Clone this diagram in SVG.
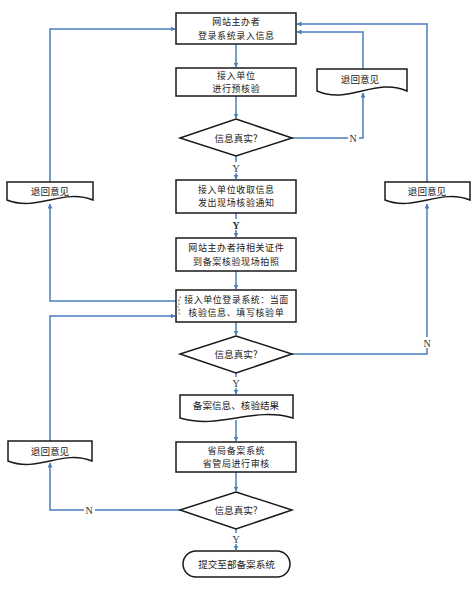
<svg xmlns="http://www.w3.org/2000/svg" width="473" height="590" viewBox="0 0 473 590">
<defs>
<marker id="arr" viewBox="0 0 10 10" refX="9" refY="5" markerWidth="5" markerHeight="5" orient="auto" markerUnits="userSpaceOnUse">
<path d="M0,0 L10,5 L0,10 Z" fill="#4a7ebb"/>
</marker>
<style>
.box{fill:#fff;stroke:#1a1a1a;stroke-width:1.5}
.t{font-family:"Noto Sans CJK SC","Noto Sans",sans-serif;font-size:9.6px;fill:#222;text-anchor:middle;dominant-baseline:central}
.m{font-size:9px;letter-spacing:0.6px}
.c{fill:none;stroke:#4a7ebb;stroke-width:1.5}
.lbl{font-family:"Liberation Serif",serif;font-size:10px;fill:#333;text-anchor:middle;dominant-baseline:central}
.bg{fill:#fff}
</style>
</defs>
<rect width="473" height="590" fill="#fff"/>

<g id="connectors">
<path class="c" d="M236 44 V67" marker-end="url(#arr)"/>
<path class="c" d="M236 96 V118" marker-end="url(#arr)"/>
<path class="c" d="M236 156 V179" marker-end="url(#arr)"/>
<path class="c" d="M292 138 H363 V93" marker-end="url(#arr)"/>
<path class="c" d="M363 69 V32 H297" marker-end="url(#arr)"/>
<path class="c" d="M236 213 V237" marker-end="url(#arr)"/>
<path class="c" d="M236 271 V289" marker-end="url(#arr)"/>
<path class="c" d="M176 301 H50 V204" marker-end="url(#arr)"/>
<path class="c" d="M50 182 V29 H175" marker-end="url(#arr)"/>
<path class="c" d="M236 322 V335" marker-end="url(#arr)"/>
<path class="c" d="M292 354 H427 V204" marker-end="url(#arr)"/>
<path class="c" d="M427 182 V24 H297" marker-end="url(#arr)"/>
<path class="c" d="M236 373 V394" marker-end="url(#arr)"/>
<path class="c" d="M236 420 V441" marker-end="url(#arr)"/>
<path class="c" d="M236 472 V491" marker-end="url(#arr)"/>
<path class="c" d="M180 510 H50 V463" marker-end="url(#arr)"/>
<path class="c" d="M50 441 V316 H175" marker-end="url(#arr)"/>
<path class="c" d="M236 529 V550" marker-end="url(#arr)"/>
<rect class="bg" x="231" y="162" width="10" height="11"/>
<text class="lbl" x="236" y="168">Y</text>
<rect class="bg" x="231" y="219" width="10" height="11"/>
<text class="lbl" x="236" y="225" font-weight="bold">Y</text>
<rect class="bg" x="231" y="377" width="10" height="11"/>
<text class="lbl" x="236" y="383">Y</text>
<rect class="bg" x="231" y="533" width="10" height="11"/>
<text class="lbl" x="236" y="539">Y</text>
<rect class="bg" x="348" y="133" width="11" height="10"/>
<text class="lbl" x="353" y="138">N</text>
<rect class="bg" x="422" y="337" width="11" height="11"/>
<text class="lbl" x="427" y="343">N</text>
<rect class="bg" x="84" y="505" width="11" height="10"/>
<text class="lbl" x="89" y="510">N</text>
</g>

<g id="n1">
<rect class="box" x="176" y="13" width="120" height="31"/>
<text class="t m" x="236.3" y="21.8">网站主办者</text>
<text class="t m" x="236.3" y="35.2">登录系统录入信息</text>
</g>
<g id="n2">
<rect class="box" x="176" y="68" width="120" height="28"/>
<text class="t m" x="236.3" y="75.4">接入单位</text>
<text class="t m" x="236.3" y="88.8">进行预核验</text>
</g>
<g id="d1">
<polygon class="box" points="236,119 292,138 236,156 180,138"/>
<text class="t" x="236" y="138">信息真实?</text>
</g>
<g id="r1">
<path class="box" d="M317 69 H407 V91 C375.5 77 348.5 105 317 91 Z"/>
<text class="t" x="360" y="79">退回意见</text>
</g>
<g id="n3">
<rect class="box" x="176" y="180" width="120" height="33"/>
<text class="t m" x="236.3" y="189.3">接入单位收取信息</text>
<text class="t m" x="236.3" y="202.7">发出现场核验通知</text>
</g>
<g id="l1">
<path class="box" d="M7 182 H93 V200 C63 188 37 212 7 200 Z"/>
<text class="t" x="50" y="191">退回意见</text>
</g>
<g id="r2">
<path class="box" d="M385 182 H470 V200 C440 188 415 212 385 200 Z"/>
<text class="t" x="427" y="191">退回意见</text>
</g>
<g id="n4">
<rect class="box" x="176" y="238" width="120" height="33"/>
<text class="t m" x="236.3" y="247.8">网站主办者持相关证件</text>
<text class="t m" x="236.3" y="261.2">到备案核验现场拍照</text>
</g>
<g id="n5">
<rect class="box" x="176" y="290" width="120" height="32"/>
<text class="t m" x="236.5" y="299" style="letter-spacing:0.5px">接入单位登录系统：当面</text>
<text class="t m" x="236.3" y="312.4">核验信息、填写核验单</text>
<path d="M181 297 Q178.5 297 179 302 Q179.5 306 177.5 306.5 Q179.5 307 179 311 Q178.5 315 181 315" fill="none" stroke="#333" stroke-width="0.8" stroke-dasharray="2 1.5"/>
</g>
<g id="d2">
<polygon class="box" points="236,336 292,354 236,373 180,354"/>
<text class="t" x="236" y="354">信息真实?</text>
</g>
<g id="n6">
<path class="box" d="M180 395 H293 V418 C253 406 220 430 180 418 Z"/>
<text class="t" x="236" y="405">备案信息、核验结果</text>
</g>
<g id="n7">
<rect class="box" x="176" y="442" width="120" height="30"/>
<text class="t m" x="236.3" y="450.3">省局备案系统</text>
<text class="t m" x="236.3" y="463.7">省管局进行审核</text>
</g>
<g id="l2">
<path class="box" d="M8 441 H92 V461 C62 449 38 473 8 461 Z"/>
<text class="t" x="50" y="451">退回意见</text>
</g>
<g id="d3">
<polygon class="box" points="236,492 292,510 236,529 180,510"/>
<text class="t" x="236" y="510">信息真实?</text>
</g>
<g id="end">
<rect class="box" x="183" y="551" width="107" height="26" rx="13" ry="13"/>
<text class="t" x="236.5" y="564">提交至部备案系统</text>
</g>
</svg>
